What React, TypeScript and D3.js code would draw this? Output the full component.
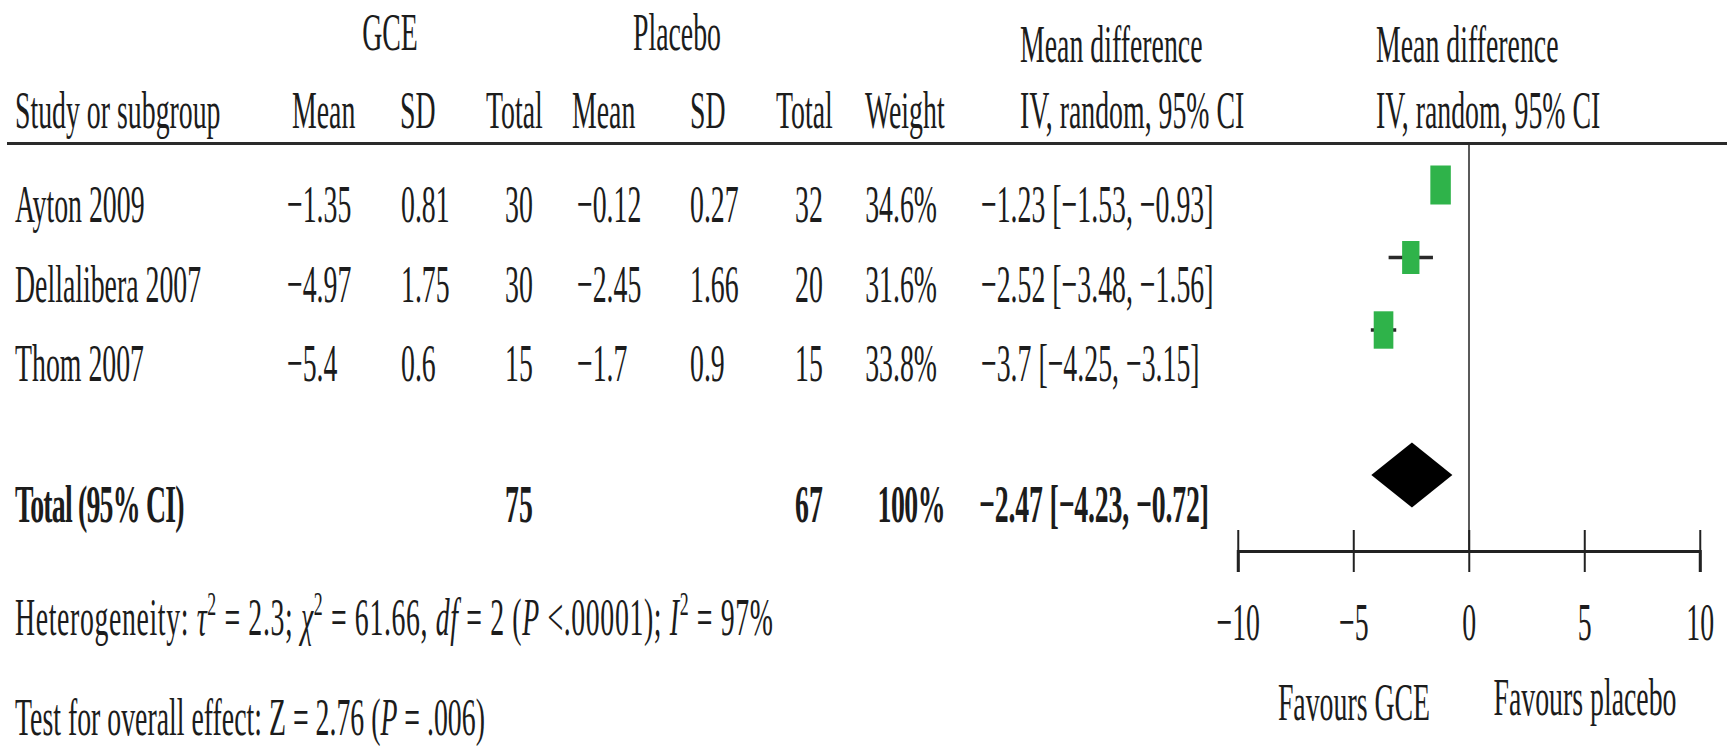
import { useEffect, useRef } from "react";
import * as d3 from "d3";

// study rows
const studies = ["Ayton 2009", "Dellalibera 2007", "Thom 2007"];
const gceMean = [-1.35, -4.97, -5.4];
const gceSD = [0.81, 1.75, 0.6];
const gceTotal = [30, 30, 15];
const placeboMean = [-0.12, -2.45, -1.7];
const placeboSD = [0.27, 1.66, 0.9];
const placeboTotal = [32, 20, 15];
const weights = [34.6, 31.6, 33.8];
const meanDiff = [-1.23, -2.52, -3.7];
const ciLow = [-1.53, -3.48, -4.25];
const ciHigh = [-0.93, -1.56, -3.15];

// pooled row
const pooledGCE = 75;
const pooledPlacebo = 67;
const pooledWeight = 100;
const pooledDiff = -2.47;
const pooledLow = -4.23;
const pooledHigh = -0.72;

const axisTicks = [-10, -5, 0, 5, 10];

const W = 1727;
const H = 749;
const SX = 0.525; // the whole figure is squashed horizontally
const INK = "#1c1c1c";
const GREEN = "#2fb34a";

const fmt = (v: number) => String(v).replace("-", "\u2212");
const ciText = (m: number, lo: number, hi: number) => `${fmt(m)} [${fmt(lo)}, ${fmt(hi)}]`;

export default function App() {
  const svgRef = useRef<SVGSVGElement>(null);

  useEffect(() => {
    if (!svgRef.current) return;
    const svg = d3.select(svgRef.current);
    svg.selectAll("*").remove();

    const px = (v: number) => v / SX;
    const g = svg.append("g")
      .attr("transform", `scale(${SX},1)`)
      .style("font-family", "'Liberation Serif', 'Times New Roman', serif")
      .style("font-size", "53px")
      .attr("fill", INK);

    const x = d3.scaleLinear().domain([-10, 10]).range([px(1238), px(1700)]);
    const rowY = d3.scaleLinear().domain([0, 2]).range([221.7, 381.5]);
    const markY = d3.scaleLinear().domain([0, 2]).range([185, 330]);
    const size = d3.scaleLinear().domain([31.6, 34.6]).range([33, 39]);

    const text = (xp: number, y: number, s: string, anchor = "start") =>
      g.append("text").attr("x", px(xp)).attr("y", y).attr("text-anchor", anchor).text(s);

    // headers
    text(390, 50, "GCE", "middle");
    text(677, 50, "Placebo", "middle");
    text(1020, 62, "Mean difference");
    text(1376, 62, "Mean difference");
    const hy = 128.3;
    text(15, hy, "Study or subgroup");
    text(292, hy, "Mean");
    text(400, hy, "SD");
    text(486, hy, "Total");
    text(572, hy, "Mean");
    text(690, hy, "SD");
    text(776, hy, "Total");
    text(865, hy, "Weight");
    text(1020, hy, "IV, random, 95% CI");
    text(1376, hy, "IV, random, 95% CI");

    g.append("line")
      .attr("x1", px(7)).attr("x2", px(W))
      .attr("y1", 143.5).attr("y2", 143.5)
      .attr("stroke", "#2a2a2a").attr("stroke-width", 3)
      .attr("vector-effect", "non-scaling-stroke");

    // study rows
    studies.forEach((name, i) => {
      const y = rowY(i);
      text(15, y, name);
      text(287, y, fmt(gceMean[i]));
      text(401, y, fmt(gceSD[i]));
      text(505, y, fmt(gceTotal[i]));
      text(577, y, fmt(placeboMean[i]));
      text(690, y, fmt(placeboSD[i]));
      text(795, y, fmt(placeboTotal[i]));
      text(937, y, `${weights[i]}%`, "end");
      text(981, y, ciText(meanDiff[i], ciLow[i], ciHigh[i]));
    });

    // pooled row
    const ty = 522;
    const bold = [
      text(15, ty, "Total (95% CI)").attr("letter-spacing", -1.5),
      text(505, ty, fmt(pooledGCE)),
      text(795, ty, fmt(pooledPlacebo)),
      text(945, ty, `${pooledWeight}%`, "end").attr("letter-spacing", -1),
      text(979, ty, ciText(pooledDiff, pooledLow, pooledHigh)).attr("letter-spacing", -0.3),
    ];
    bold.forEach(t => t.attr("font-weight", "bold"));

    // zero line
    g.append("line")
      .attr("x1", x(0)).attr("x2", x(0))
      .attr("y1", 145).attr("y2", 551)
      .attr("stroke", "#5a5a5a").attr("stroke-width", 2)
      .attr("vector-effect", "non-scaling-stroke");

    // confidence intervals
    g.selectAll(".ci")
      .data(studies)
      .join("line")
      .attr("x1", (_, i) => x(ciLow[i]))
      .attr("x2", (_, i) => x(ciHigh[i]))
      .attr("y1", (_, i) => markY(i))
      .attr("y2", (_, i) => markY(i))
      .attr("stroke", "#2a2a2a").attr("stroke-width", 3.5)
      .attr("vector-effect", "non-scaling-stroke");

    // weight squares
    g.selectAll(".sq")
      .data(studies)
      .join("rect")
      .attr("x", (_, i) => x(meanDiff[i]) - size(weights[i]) / 2)
      .attr("y", (_, i) => markY(i) - size(weights[i]) / 2)
      .attr("width", (_, i) => size(weights[i]))
      .attr("height", (_, i) => size(weights[i]))
      .attr("fill", GREEN);

    // pooled diamond
    const dy = 475;
    const dh = 32.5;
    g.append("path")
      .attr("d", `M${x(pooledLow)},${dy} L${x(pooledDiff)},${dy - dh} L${x(pooledHigh)},${dy} L${x(pooledDiff)},${dy + dh} Z`)
      .attr("fill", "#000");

    // axis
    const axis = g.append("g")
      .attr("transform", "translate(0,551)")
      .call(d3.axisBottom(x).tickValues(axisTicks).tickSizeOuter(0).tickSize(21));
    axis.attr("font-size", null).attr("font-family", null);
    axis.select(".domain")
      .attr("stroke", "#222").attr("stroke-width", 3)
      .attr("vector-effect", "non-scaling-stroke");
    axis.selectAll(".tick line")
      .attr("y1", -21).attr("y2", 21)
      .attr("stroke", "#222").attr("stroke-width", 2)
      .attr("vector-effect", "non-scaling-stroke");
    axis.selectAll(".tick text")
      .attr("y", 89).attr("dy", null)
      .attr("fill", INK);

    text(1354, 720, "Favours GCE", "middle");
    text(1585, 715, "Favours placebo", "middle");

    // footnotes: each part is [text, italic, superscript]
    const parts = (t: d3.Selection<SVGTextElement, unknown, null, undefined>, items: [string, boolean, boolean][]) => {
      let raised = false;
      items.forEach(([s, it, up]) => {
        const span = t.append("tspan").text(s);
        if (it) span.attr("font-style", "italic");
        if (up) {
          span.attr("font-size", 34).attr("dy", -20);
          raised = true;
        } else if (raised) {
          span.attr("dy", 20);
          raised = false;
        }
      });
    };
    const het = text(15, 635, "")
      .attr("textLength", px(773 - 15))
      .attr("lengthAdjust", "spacing");
    parts(het, [
      ["Heterogeneity: ", false, false],
      ["\u03c4", true, false],
      ["2", false, true],
      [" = 2.3; ", false, false],
      ["\u03c7", true, false],
      ["2", false, true],
      [" = 61.66, ", false, false],
      ["df", true, false],
      [" = 2 (", false, false],
      ["P", true, false],
      [" <.00001); ", false, false],
      ["I", true, false],
      ["2", false, true],
      [" = 97%", false, false],
    ]);

    const test = text(15, 735, "");
    parts(test, [
      ["Test for overall effect: Z = 2.76 (", false, false],
      ["P", true, false],
      [" = .006)", false, false],
    ]);
  }, []);

  return (
    <svg
      ref={svgRef}
      width={W}
      height={H}
      style={{ position: "absolute", left: 0, top: 0, background: "#fff" }}
    />
  );
}
